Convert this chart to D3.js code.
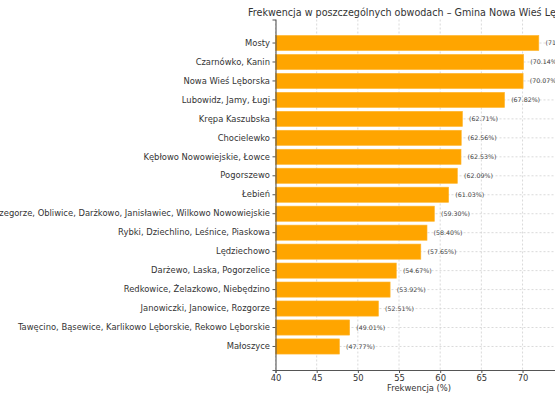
<!DOCTYPE html>
<html>
<head>
<meta charset="utf-8">
<script src="https://cdn.jsdelivr.net/npm/d3@7"></script>
<style>
  html, body { margin: 0; padding: 0; background: #fff; overflow: hidden; }
  svg { display: block; font-family: "DejaVu Sans", sans-serif; }
</style>
</head>
<body>
<div id="chart"></div>
<script>
// turnout per district, top to bottom
const districts = [
  "Mosty",
  "Czarnówko, Kanin",
  "Nowa Wieś Lęborska",
  "Lubowidz, Jamy, Ługi",
  "Krępa Kaszubska",
  "Chocielewko",
  "Kębłowo Nowowiejskie, Łowce",
  "Pogorszewo",
  "Łebień",
  "Garczegorze, Obliwice, Darżkowo, Janisławiec, Wilkowo Nowowiejskie",
  "Rybki, Dziechlino, Leśnice, Piaskowa",
  "Lędziechowo",
  "Darżewo, Laska, Pogorzelice",
  "Redkowice, Żelazkowo, Niebędzino",
  "Janowiczki, Janowice, Rozgorze",
  "Tawęcino, Bąsewice, Karlikowo Lęborskie, Rekowo Lęborskie",
  "Małoszyce"
];
const turnout = [71.98, 70.14, 70.07, 67.82, 62.71, 62.56, 62.53, 62.09, 61.03,
                 59.30, 58.40, 57.65, 54.67, 53.92, 52.51, 49.01, 47.77];
const xTicks = [40, 45, 50, 55, 60, 65, 70];

const title = "Frekwencja w poszczególnych obwodach – Gmina Nowa Wieś Lęborska";
const xLabel = "Frekwencja (%)";

const width = 555, height = 400;
const margin = {top: 19.5, left: 275.5, bottom: 30};
const plotRight = 567; // axes run past the visible area
const innerHeight = height - margin.top - margin.bottom;
const fontSize = 8.4;

const data = districts.map((d, i) => ({name: d, value: turnout[i]}));

const svg = d3.select("#chart").append("svg")
  .attr("width", width)
  .attr("height", height);

const xScale = d3.scaleLinear().domain([40, 75.4]).range([margin.left, plotRight]);
const yScale = d3.scaleBand()
  .domain(districts)
  .range([margin.top, margin.top + innerHeight])
  .paddingInner(0.2)
  .paddingOuter(0.84);

// grid
const grid = svg.append("g").attr("class", "grid");
grid.selectAll(".vgrid")
  .data(xTicks)
  .join("line")
  .attr("class", "vgrid")
  .attr("x1", d => xScale(d)).attr("x2", d => xScale(d))
  .attr("y1", margin.top).attr("y2", margin.top + innerHeight)
  .attr("stroke", "#d0d0d0").attr("stroke-width", 0.8)
  .attr("stroke-dasharray", "2,2");
grid.selectAll(".hgrid")
  .data(districts)
  .join("line")
  .attr("class", "hgrid")
  .attr("x1", margin.left).attr("x2", plotRight)
  .attr("y1", d => yScale(d) + yScale.bandwidth() / 2)
  .attr("y2", d => yScale(d) + yScale.bandwidth() / 2)
  .attr("stroke", "#d0d0d0").attr("stroke-width", 0.8)
  .attr("stroke-dasharray", "2,2");

// bars
svg.append("g").selectAll(".bar")
  .data(data)
  .join("rect")
  .attr("class", "bar")
  .attr("x", xScale(40))
  .attr("y", d => yScale(d.name))
  .attr("width", d => xScale(d.value) - xScale(40))
  .attr("height", yScale.bandwidth())
  .attr("fill", "#ffa500")
  .attr("stroke", "#ffb733")
  .attr("stroke-width", 0.6);

// value labels
svg.append("g").selectAll(".val")
  .data(data)
  .join("text")
  .attr("class", "val")
  .attr("x", d => xScale(d.value + 0.8))
  .attr("y", d => yScale(d.name) + yScale.bandwidth() / 2)
  .attr("dy", "0.35em")
  .attr("font-size", 6.3)
  .attr("fill", "#444")
  .text(d => "(" + d.value.toFixed(2) + "%)");

// axes
const xAxis = d3.axisBottom(xScale).tickValues(xTicks).tickSize(3).tickPadding(2.5);
const yAxis = d3.axisLeft(yScale).tickSize(3).tickPadding(2.5);

const gx = svg.append("g")
  .attr("transform", "translate(0," + (margin.top + innerHeight) + ")")
  .call(xAxis);
gx.select(".domain").attr("stroke", "#555").attr("stroke-width", 1.1);
gx.selectAll(".tick line").attr("stroke", "#555");
gx.selectAll(".tick text").attr("font-size", fontSize).attr("fill", "#333")
  .attr("font-family", "DejaVu Sans, sans-serif");

const gy = svg.append("g")
  .attr("transform", "translate(" + margin.left + ",0)")
  .call(yAxis);
gy.select(".domain").attr("stroke", "#555").attr("stroke-width", 1.1);
gy.selectAll(".tick line").attr("stroke", "#555");
gy.selectAll(".tick text").attr("font-size", fontSize).attr("fill", "#333")
  .attr("font-family", "DejaVu Sans, sans-serif");

// titles
svg.append("text")
  .attr("x", 248)
  .attr("y", 16)
  .attr("font-size", 9.6)
  .attr("fill", "#333")
  .text(title);

svg.append("text")
  .attr("x", 419)
  .attr("y", 391)
  .attr("text-anchor", "middle")
  .attr("font-size", fontSize)
  .attr("fill", "#333")
  .text(xLabel);
</script>
</body>
</html>
